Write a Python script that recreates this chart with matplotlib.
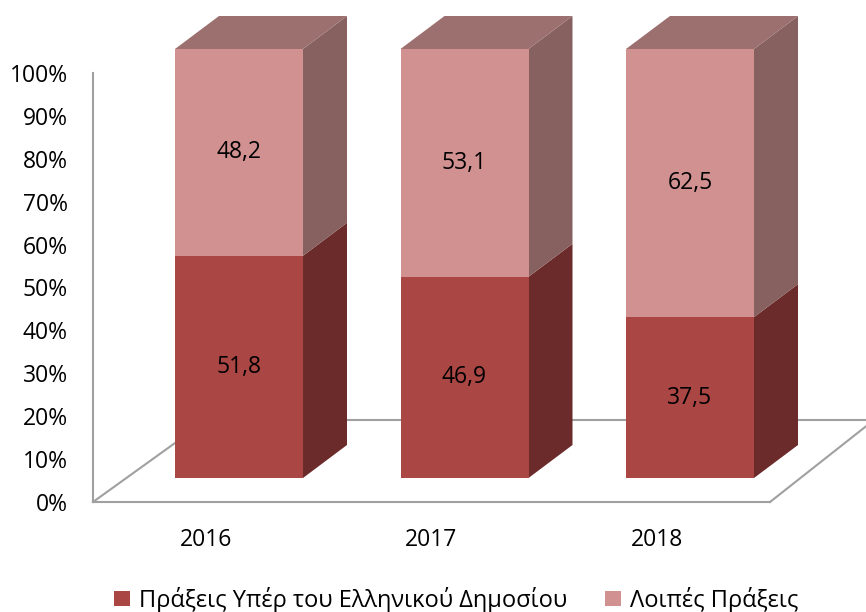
import matplotlib.pyplot as plt
from matplotlib.patches import Polygon, Patch
from matplotlib.ticker import PercentFormatter

years = ["2016", "2017", "2018"]
public_acts = [51.8, 46.9, 37.5]
other_acts = [48.2, 53.1, 62.5]
series_names = ["Πράξεις Υπέρ του Ελληνικού Δημοσίου", "Λοιπές Πράξεις"]

plt.rcParams['font.family'] = ['Open Sans', 'DejaVu Sans']

front = ["#AA4643", "#D19190"]
side = ["#6B2B2A", "#876060"]
top_col = "#9C706F"
grid_col = "#A0A0A0"
fs = 16.5

fig = plt.figure(figsize=(8.66, 6.12), dpi=100)
ax = fig.add_axes([0, 0, 1, 1])

# pixel-based frame: 0% at y=502px, 100% at y=73px; bars spaced 225.5px
py = 4.29
px = 225.5
ax.set_xlim(-239 / px, 2 + (866 - 690) / px)
ax.set_ylim(-(612 - 502) / py, 100 + 73 / py)

w = 128 / px
dx, dy = 44 / px, 33 / py
base = 24 / py
axis_x = -239 / px + 93 / px

# floor
back_y = (502 - 420) / py
right_front = -239 / px + 770 / px
ax.plot([axis_x, right_front], [0, 0], color=grid_col, lw=1.5, zorder=1)
ax.plot([axis_x, axis_x + 114 / px], [0, back_y], color=grid_col, lw=1.5, zorder=1)
ax.plot([axis_x + 114 / px, right_front + 104 / px], [back_y, back_y], color=grid_col, lw=1.5, zorder=1)
ax.plot([right_front, right_front + 104 / px], [0, back_y], color=grid_col, lw=1.5, zorder=1)

xs = list(range(len(years)))
for i, vals in enumerate([public_acts, other_acts]):
    bottoms = [base + (public_acts[k] if i == 1 else 0) for k in xs]
    ax.bar(xs, vals, width=w, bottom=bottoms, color=front[i], zorder=3)
    for k in xs:
        x1 = xs[k] + w / 2
        b = bottoms[k]
        t = b + vals[k]
        ax.add_patch(Polygon([(x1, b), (x1 + dx, b + dy), (x1 + dx, t + dy), (x1, t)],
                             closed=True, facecolor=side[i], edgecolor='none', zorder=2))
        if i == 1:
            x0 = xs[k] - w / 2
            ax.add_patch(Polygon([(x0, t), (x0 + dx, t + dy), (x1 + dx, t + dy), (x1, t)],
                                 closed=True, facecolor=top_col, edgecolor='none', zorder=2))
        ax.text(xs[k], b + vals[k] / 2, f"{vals[k]:.1f}".replace('.', ','),
                ha='center', va='center', fontsize=fs, color='black', zorder=4)

# category labels
for k, yr in enumerate(years):
    ax.text(xs[k] - 33 / px, -(540 - 502) / py, yr, ha='center', va='center', fontsize=fs)

# value axis
for s in ['top', 'right', 'bottom']:
    ax.spines[s].set_visible(False)
ax.spines['left'].set_position(('data', axis_x))
ax.spines['left'].set_bounds(0, 100)
ax.spines['left'].set_color(grid_col)
ax.spines['left'].set_linewidth(1.5)
ax.set_yticks(range(0, 101, 10))
ax.yaxis.set_major_formatter(PercentFormatter(decimals=0))
ax.tick_params(axis='y', length=0, pad=18, labelsize=fs)
ax.set_xticks([])
ax.patch.set_alpha(0)

handles = [Patch(facecolor=front[0]), Patch(facecolor=front[1])]
fig.legend(handles, series_names, loc='lower center', bbox_to_anchor=(0.527, -0.036), ncol=2,
           frameon=False, fontsize=17, handlelength=0.65, handleheight=0.65,
           handletextpad=0.4, columnspacing=1.6)

fig.savefig("out.png", dpi=100)
